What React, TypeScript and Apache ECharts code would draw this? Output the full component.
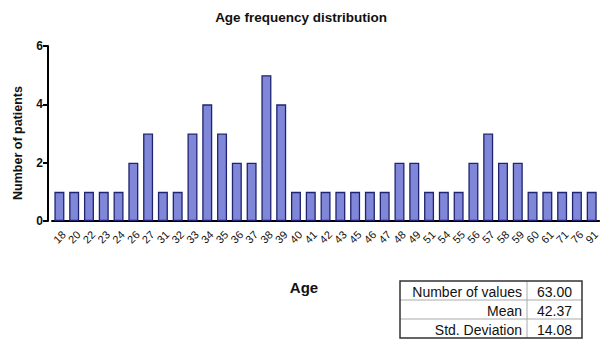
import React, { useEffect, useRef } from "react";
import * as echarts from "echarts";

const ages: string[] = ["18","20","22","23","24","26","27","31","32","33","34","35","36","37","38","39","40","41","42","43","45","46","47","48","49","51","54","55","56","57","58","59","60","61","71","76","91"];
const patients: number[] = [1,1,1,1,1,2,3,1,1,3,4,3,2,2,5,4,1,1,1,1,1,1,1,2,2,1,1,1,2,3,2,2,1,1,1,1,1];
const yTicks = { min: 0, max: 6, interval: 2 };
const statLabels: string[] = ["Number of values", "Mean", "Std. Deviation"];
const statValues: string[] = ["63.00", "42.37", "14.08"];

const FONT = "Liberation Sans, Arial, sans-serif";

export default function App() {
  const ref = useRef<HTMLDivElement>(null);
  useEffect(() => {
    document.body.style.margin = "0";
    if (!ref.current) return;
    const chart = echarts.init(ref.current, undefined, { renderer: "svg" });
    const tx = 400, ty = 281, tw = 182, rh = 19, cx = 527;
    const tableEls: any[] = [];
    statLabels.forEach((l, i) => {
      if (i > 0) {
        tableEls.push({ type: "line", shape: { x1: tx, y1: ty + i * rh, x2: tx + tw, y2: ty + i * rh }, style: { stroke: "#aaa", lineWidth: 1 } });
      }
      tableEls.push({ type: "text", x: cx - 5, y: ty + i * rh + rh / 2 + 1, style: { text: l, font: `14px ${FONT}`, fill: "#111", align: "right", verticalAlign: "middle" } });
      tableEls.push({ type: "text", x: (cx + tx + tw) / 2, y: ty + i * rh + rh / 2 + 1, style: { text: statValues[i], font: `14px ${FONT}`, fill: "#111", align: "center", verticalAlign: "middle" } });
    });
    tableEls.push({ type: "line", shape: { x1: cx, y1: ty, x2: cx, y2: ty + 3 * rh }, style: { stroke: "#aaa", lineWidth: 1 } });
    tableEls.push({ type: "rect", shape: { x: tx, y: ty, width: tw, height: 3 * rh }, style: { fill: "none", stroke: "#333", lineWidth: 1.5 } });
    tableEls.push({ type: "text", x: 18, y: 143, rotation: Math.PI / 2, style: { text: "Number of patients", font: `bold 12.5px ${FONT}`, fill: "#111", align: "center", verticalAlign: "middle" } });
    tableEls.push({ type: "text", x: 304, y: 287, style: { text: "Age", font: `bold 15px ${FONT}`, fill: "#111", align: "center", verticalAlign: "middle" } });

    chart.setOption({
      animation: false,
      backgroundColor: "#fff",
      title: {
        text: "Age frequency distribution",
        left: "center",
        top: 5,
        textStyle: { fontFamily: FONT, fontSize: 13.5, fontWeight: "bold", color: "#111" },
      },
      grid: { left: 52, right: 0, top: 46, bottom: 118 },
      xAxis: {
        type: "category",
        data: ages,
        axisLine: { lineStyle: { color: "#000", width: 2 } },
        axisTick: { alignWithLabel: true, length: 5, lineStyle: { color: "#000", width: 2 } },
        axisLabel: { rotate: 45, interval: 0, fontFamily: FONT, fontSize: 11, color: "#111", margin: 16, align: "center", verticalAlign: "middle" },
      },
      yAxis: {
        type: "value",
        min: yTicks.min,
        max: yTicks.max,
        interval: yTicks.interval,
        offset: 4,
        axisLine: { show: true, lineStyle: { color: "#000", width: 2 } },
        axisTick: { show: true, length: 5, lineStyle: { color: "#000", width: 2 } },
        axisLabel: { fontFamily: FONT, fontSize: 12, fontWeight: "bold", color: "#111", margin: 5 },
        splitLine: { show: false },
      },
      series: [
        {
          type: "bar",
          data: patients,
          barWidth: 10,
          itemStyle: { color: "#8087d9", borderColor: "#1e2470", borderWidth: 1.3 },
        },
      ],
      graphic: tableEls,
    });
    return () => chart.dispose();
  }, []);
  return <div ref={ref} style={{ width: 602, height: 339 }} />;
}
